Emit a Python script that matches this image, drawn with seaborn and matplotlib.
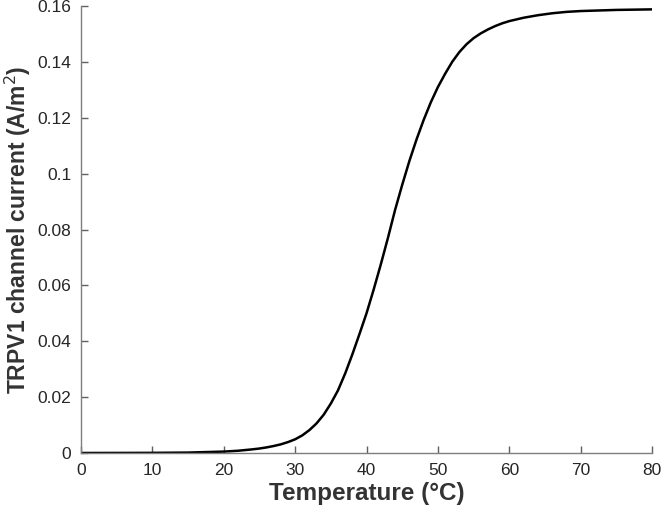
import matplotlib.pyplot as plt
import matplotlib.ticker as mticker
import pandas as pd
import seaborn as sns

# values
temperature = [0, 5, 10, 15, 20, 22, 24, 25, 26, 27, 28, 29, 30, 31, 32, 33,
               34, 35, 36, 37, 38, 39, 40, 41, 42, 43, 44, 45, 46, 47, 48,
               49, 50, 51, 52, 53, 54, 55, 56, 57, 58, 59, 60, 62, 64, 66,
               68, 70, 75, 80]
current = [0.0, 0.00002, 0.00005, 0.00015, 0.0005, 0.0008, 0.0013, 0.0016,
           0.0020, 0.0025, 0.0031, 0.0039, 0.0049, 0.0063, 0.0082, 0.0106,
           0.0137, 0.0177, 0.0224, 0.0284, 0.0352, 0.0425, 0.0500, 0.0585,
           0.0675, 0.0770, 0.0870, 0.0960, 0.1045, 0.1122, 0.1192, 0.1255,
           0.1310, 0.1357, 0.1400, 0.1435, 0.1463, 0.1485, 0.1502, 0.1516,
           0.1528, 0.1538, 0.1546, 0.1558, 0.1567, 0.1574, 0.1579, 0.1582,
           0.1586, 0.1588]

df = pd.DataFrame({"temperature": temperature, "current": current})

sns.set_style("ticks")
plt.rcParams["font.family"] = ["Liberation Sans", "DejaVu Sans"]

fig = plt.figure(figsize=(6.61, 5.14), dpi=100)
ax = fig.add_axes([0.1225, 0.1187, 0.864, 0.8696])

sns.lineplot(data=df, x="temperature", y="current", color="black",
             linewidth=1.8, ax=ax)

ax.set_xlim(0, 80)
ax.set_ylim(0, 0.16)
ax.set_xticks(range(0, 81, 10))
ax.set_yticks([0, 0.02, 0.04, 0.06, 0.08, 0.1, 0.12, 0.14, 0.16])
ax.yaxis.set_major_formatter(mticker.FuncFormatter(lambda v, p: "%g" % round(v, 4)))

sns.despine(ax=ax)
for s in ("left", "bottom"):
    ax.spines[s].set_color("#7f7f7f")
    ax.spines[s].set_linewidth(1.0)
ax.xaxis.set_ticks_position("bottom")
ax.yaxis.set_ticks_position("left")
ax.tick_params(axis="both", which="major", direction="in", length=5,
               width=1.0, color="#606060", labelsize=12.5,
               labelcolor="#262626", pad=7, bottom=True, left=True)

ax.set_xlabel("Temperature (°C)", fontsize=17.5, fontweight="bold",
              color="#333333", labelpad=3)
ax.set_ylabel("TRPV1 channel current (A/m$^2$)", fontsize=16.5,
              fontweight="bold", color="#333333", labelpad=3)

fig.savefig("out.png", dpi=100)
